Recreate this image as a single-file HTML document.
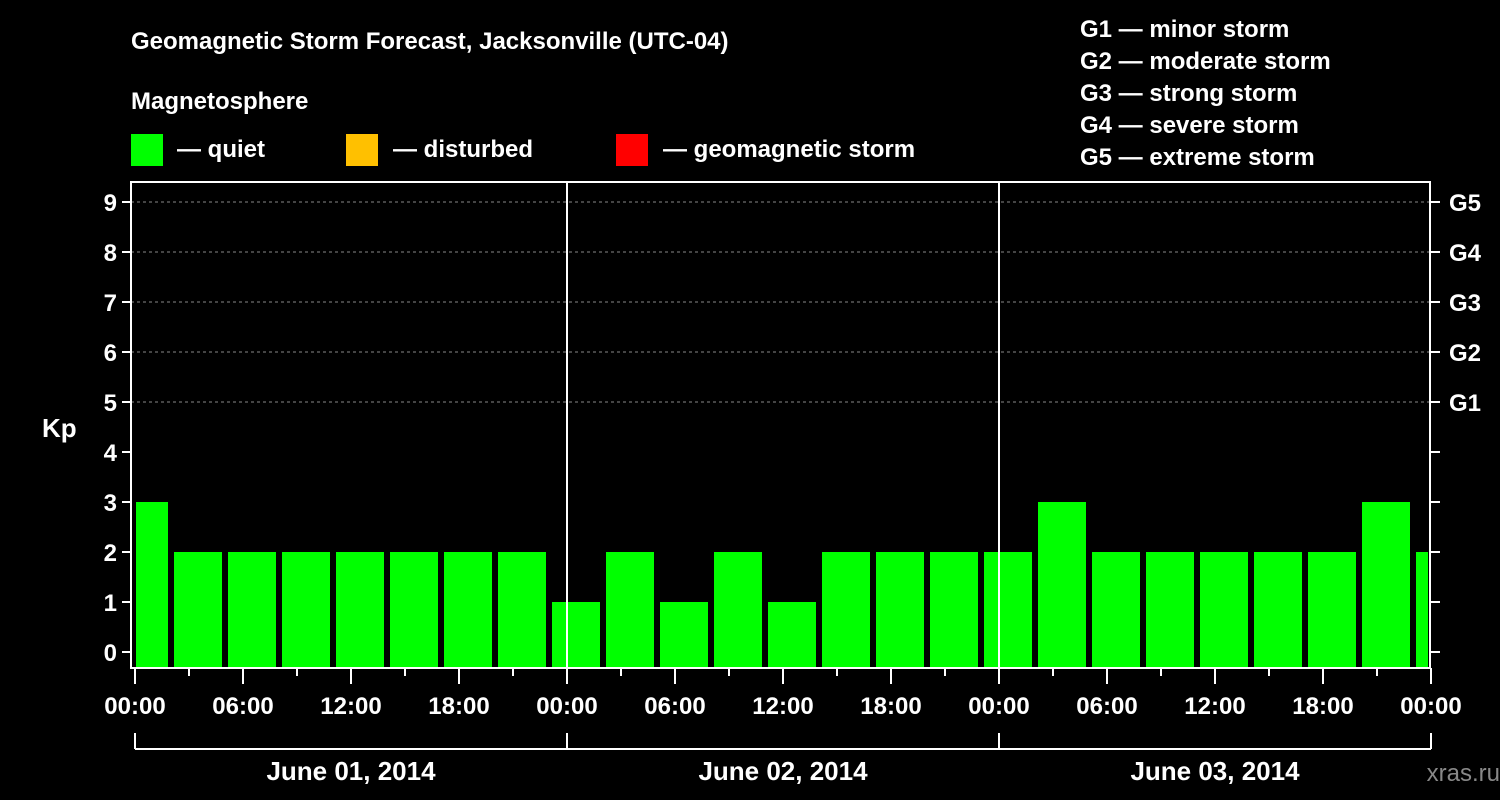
<!DOCTYPE html>
<html><head><meta charset="utf-8"><style>
html,body{margin:0;padding:0;background:#000;}
svg{display:block;font-family:"Liberation Sans",sans-serif;font-weight:bold;}
</style></head><body>
<svg id="c" width="1500" height="800" viewBox="0 0 1500 800">
<rect width="1500" height="800" fill="#000"/>
<text x="131" y="49" fill="#fff" font-size="24">Geomagnetic Storm Forecast, Jacksonville (UTC-04)</text>
<text x="131" y="109" fill="#fff" font-size="24">Magnetosphere</text>
<g><rect x="131" y="134" width="32" height="32" fill="#00ff00"/><text x="177" y="157" fill="#fff" font-size="24">— quiet</text></g>
<g><rect x="346" y="134" width="32" height="32" fill="#ffc000"/><text x="393" y="157" fill="#fff" font-size="24">— disturbed</text></g>
<g><rect x="616" y="134" width="32" height="32" fill="#ff0000"/><text x="663" y="157" fill="#fff" font-size="24">— geomagnetic storm</text></g>
<g fill="#fff" font-size="24">
<text x="1080" y="37">G1 — minor storm</text>
<text x="1080" y="69">G2 — moderate storm</text>
<text x="1080" y="101">G3 — strong storm</text>
<text x="1080" y="133">G4 — severe storm</text>
<text x="1080" y="165">G5 — extreme storm</text>
</g>
<text x="42" y="437" fill="#fff" font-size="26">Kp</text>
<text x="1500" y="781" fill="#888" font-size="24" text-anchor="end" font-weight="normal">xras.ru </text>
<g id="plot"></g>
</svg>
<script>
const kpValues=[3,2,2,2,2,2,2,2,1,2,1,2,1,2,2,2,2,3,2,2,2,2,2,3,2];
const barStartHours=[-1,2,5,8,11,14,17,20,23,26,29,32,35,38,41,44,47,50,53,56,59,62,65,68,71];
const yTicks=[0,1,2,3,4,5,6,7,8,9];
const gLabels=["G1","G2","G3","G4","G5"];
const gLevels=[5,6,7,8,9];
const xTickLabels=["00:00","06:00","12:00","18:00","00:00","06:00","12:00","18:00","00:00","06:00","12:00","18:00","00:00"];
const dayLabels=["June 01, 2014","June 02, 2014","June 03, 2014"];
const NS="http://www.w3.org/2000/svg";
const x0=135,pxH=18,yZero=652,pxK=50,L=131,R=1430,T=182,B=668;
const X=h=>x0+h*pxH, Y=k=>yZero-k*pxK;
const g=document.getElementById('plot');
function mk(t,a){const e=document.createElementNS(NS,t);for(const k in a)e.setAttribute(k,a[k]);g.appendChild(e);return e;}
gLevels.forEach(k=>{const e=mk('line',{x1:L,x2:R,y1:Y(k),y2:Y(k),stroke:'#888','stroke-dasharray':'3,3','stroke-width':1});

});
kpValues.forEach((v,i)=>{const h=barStartHours[i];let a=X(h)+3,b=X(h+3)-3;a=Math.max(a,L+5);b=Math.min(b,R-2);
const c=v>=5?'#ff0000':(v>=4?'#ffc000':'#00ff00');
const e=mk('rect',{x:a,y:Y(v),width:b-a,height:B-Y(v),fill:c});

});
[1,2].forEach(d=>{const e=mk('line',{x1:X(24*d),x2:X(24*d),y1:T,y2:B,stroke:'#fff','stroke-width':2});

});
const fr=mk('rect',{x:L,y:T,width:R-L,height:B-T,fill:'none',stroke:'#fff','stroke-width':2});


yTicks.forEach(k=>{mk('line',{x1:L-9,x2:L,y1:Y(k),y2:Y(k),stroke:'#fff','stroke-width':2});
mk('line',{x1:R,x2:R+10,y1:Y(k),y2:Y(k),stroke:'#fff','stroke-width':2});
const t=mk('text',{x:L-14,y:Y(k)+9,fill:'#fff','font-size':24,'text-anchor':'end'});t.textContent=k;

});
gLabels.forEach((s,i)=>{const t=mk('text',{x:R+19,y:Y(gLevels[i])+9,fill:'#fff','font-size':24});t.textContent=s;

});
for(let h=0;h<=72;h+=3){const big=h%6===0;mk('line',{x1:X(h),x2:X(h),y1:B,y2:B+(big?16:8),stroke:'#fff','stroke-width':2});}
xTickLabels.forEach((s,i)=>{const t=mk('text',{x:X(i*6),y:714,fill:'#fff','font-size':24,'text-anchor':'middle'});t.textContent=s;

});
mk('line',{x1:X(0),x2:X(72),y1:749,y2:749,stroke:'#fff','stroke-width':2});
for(let d=0;d<=3;d++)mk('line',{x1:X(24*d),x2:X(24*d),y1:733,y2:749,stroke:'#fff','stroke-width':2});
dayLabels.forEach((s,i)=>{const t=mk('text',{x:X(24*i+12),y:780,fill:'#fff','font-size':26,'text-anchor':'middle'});t.textContent=s;

});
</script>
</body></html>
